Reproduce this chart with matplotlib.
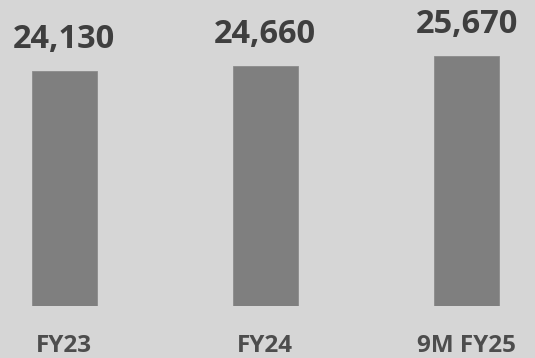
import matplotlib
matplotlib.use("Agg")
import matplotlib.pyplot as plt

categories = ["FY23", "FY24", "9M FY25"]
values = [24130, 24660, 25670]
value_labels = ["24,130", "24,660", "25,670"]

plt.rcParams['font.family'] = ['Open Sans', 'DejaVu Sans']

fig = plt.figure(figsize=(5.35, 3.58), dpi=100)
fig.patch.set_facecolor('#d6d6d6')
ax = fig.add_axes([0, 52/358, 1, 306/358])
ax.set_facecolor('#d6d6d6')

x = list(range(len(categories)))
ax.bar(x, values, width=0.323, color='#7f7f7f', edgecolor='#8c8c8c', linewidth=0.6)
ax.set_xlim(-0.318, 2.340)
ax.set_ylim(0, 31400)
for s in ax.spines.values():
    s.set_visible(False)
ax.set_xticks([])
ax.set_yticks([])

for xi, v, lab in zip(x, values, value_labels):
    ax.annotate(lab, (xi, v), xytext=(0, 10.5), textcoords='offset points',
                ha='center', va='bottom', fontsize=23.5, fontweight='bold',
                color='#3f3f3f')

for xi, c in zip(x, categories):
    ax.annotate(c, (xi, 0), xytext=(0, -28.5), textcoords='offset points',
                ha='center', va='center', fontsize=17.5, fontweight='bold',
                color='#4d4d4d', annotation_clip=False)

fig.savefig("out.png", dpi=100, facecolor=fig.get_facecolor())
